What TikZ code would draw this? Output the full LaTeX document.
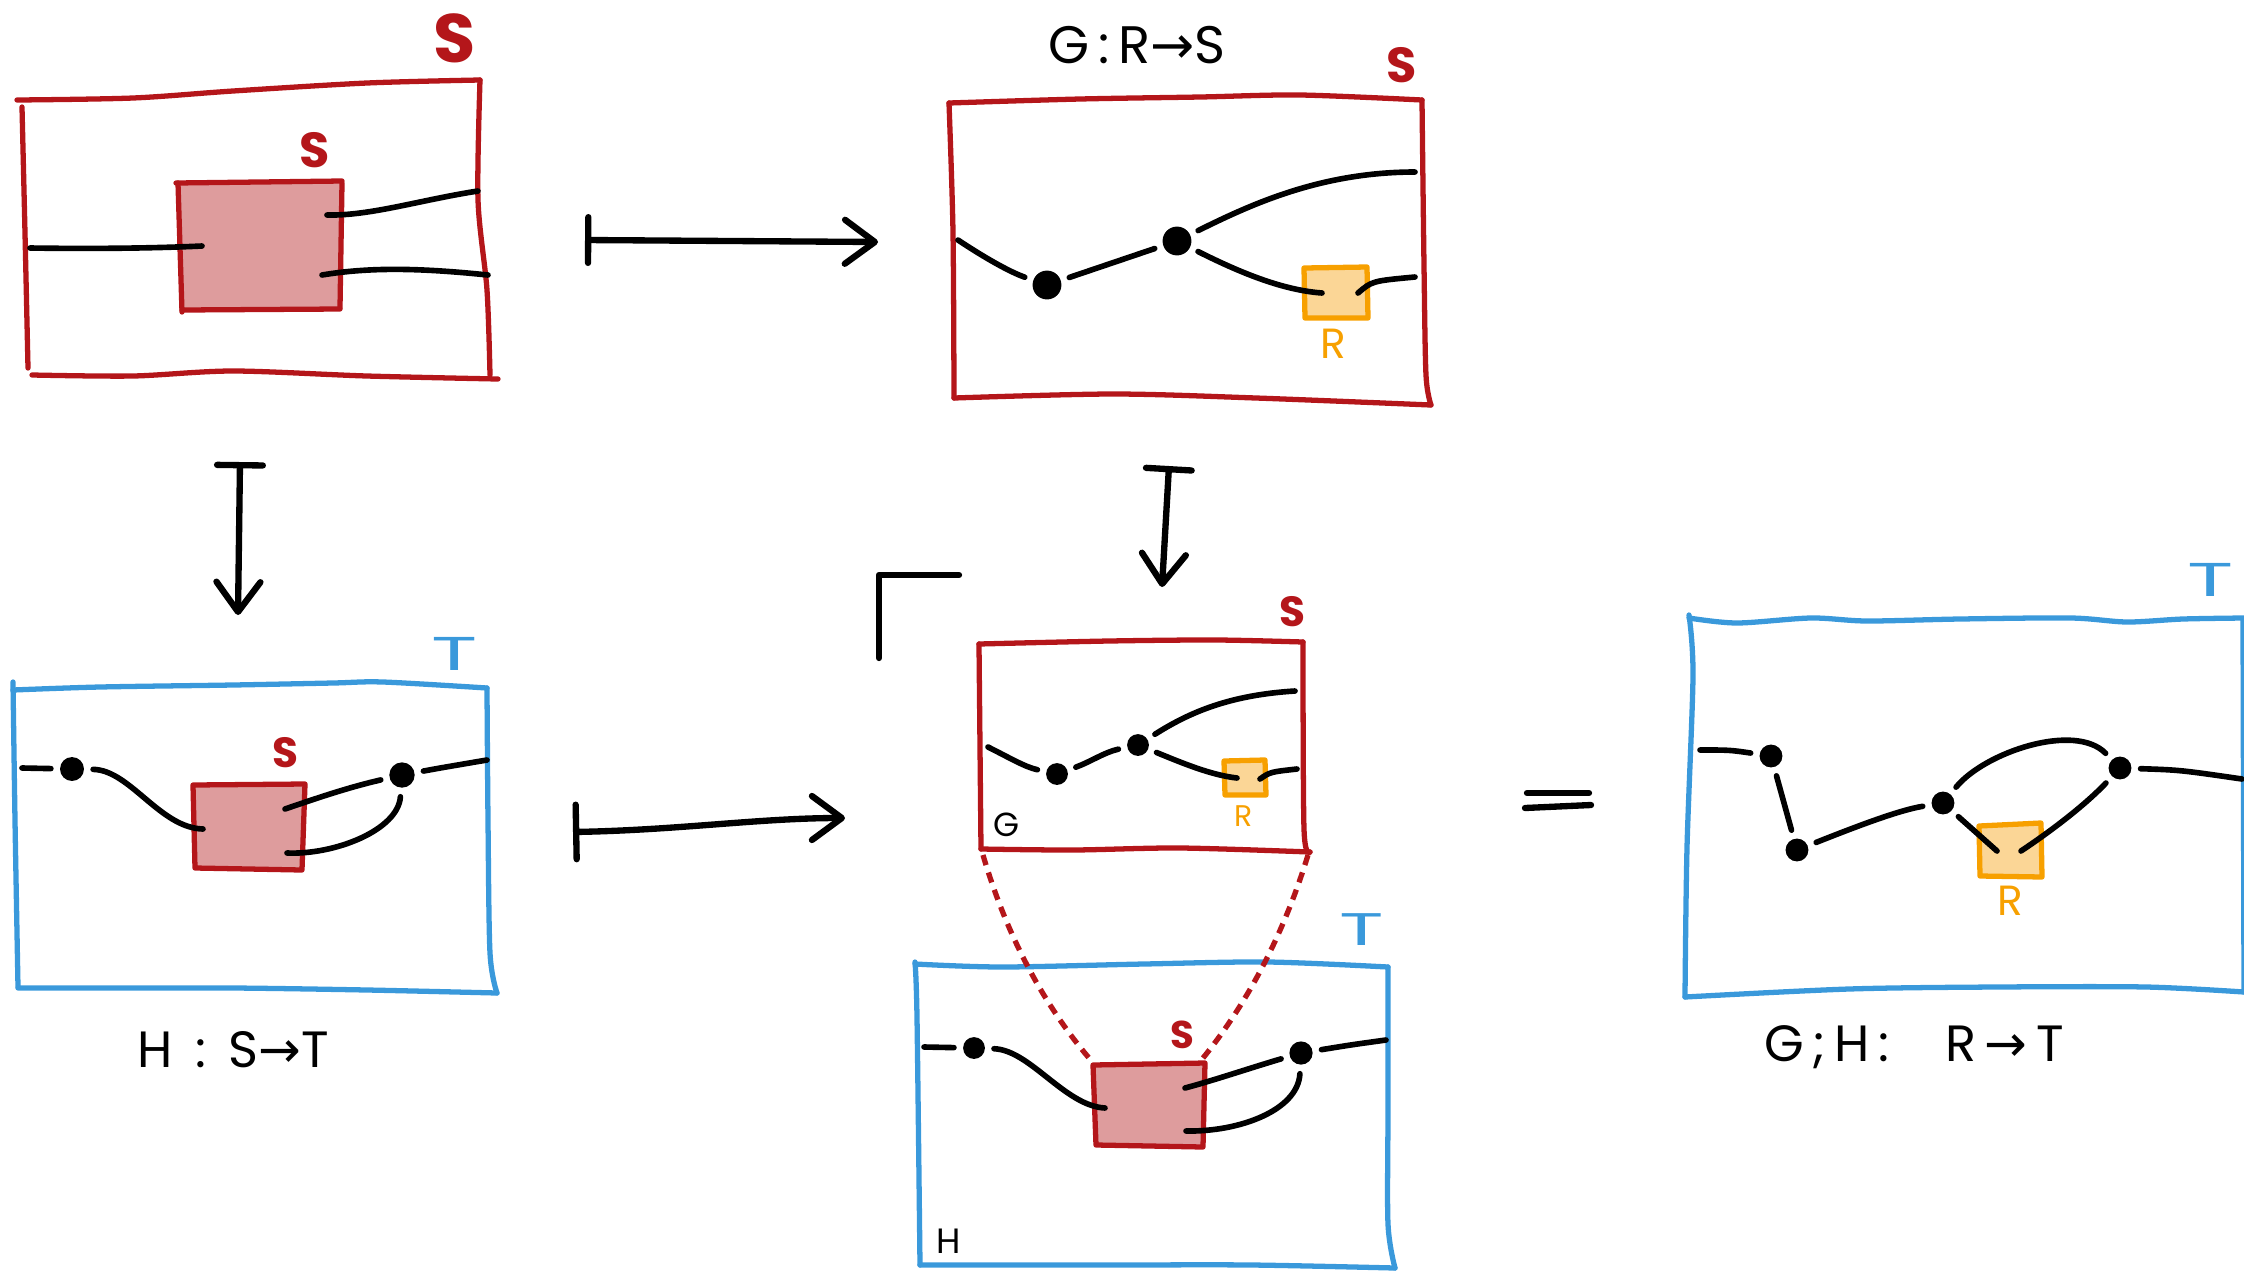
\documentclass[tikz,border=0pt]{standalone}
\usepackage{fontspec}
\setmainfont{Poppins}
\newfontfamily\symfont{DejaVu Sans}
\usetikzlibrary{arrows.meta}
\definecolor{sred}{RGB}{180,22,26}
\definecolor{spink}{RGB}{222,156,157}
\definecolor{sblue}{RGB}{58,153,219}
\definecolor{sorange}{RGB}{247,160,0}
\definecolor{sorangefill}{RGB}{251,214,150}
\newcommand{\fs}[1]{\fontsize{#1}{#1}\selectfont}
\newcommand{\ar}{{\symfont →}}
\tikzset{
  edge/.style={line width=1.5pt,line cap=round,line join=round},
  redline/.style={edge,draw=sred},
  blueline/.style={edge,draw=sblue},
  orangeline/.style={edge,draw=sorange},
  wire/.style={line width=1.6pt,line cap=round,draw=black},
  dot/.style={circle,fill=black,inner sep=0pt,minimum size=#1,outer sep=2.6pt},
  maparrow/.style={line width=1.8pt,line cap=round,line join=round,
    {Bar[width=13pt,round]}-{Straight Barb[length=8.5pt,width=12.5pt,round]}},
  dashlink/.style={line width=1.5pt,draw=sred,dash pattern=on 3pt off 2.2pt},
  slab/.style={text=sred,inner sep=0pt,font=\bfseries\fs{#1}},
  tlab/.style={text=sblue,inner sep=0pt,font=\fs{#1}},
  rlab/.style={text=sorange,inner sep=0pt,font=\fs{#1}},
  blab/.style={text=black,inner sep=0pt,font=\fs{#1}},
}
\begin{document}
\begin{tikzpicture}[x=0.01cm,y=-0.01cm]
\useasboundingbox (0,0) rectangle (2244,1275);

% ---------- S-shaped diagram with an S-hole (top left) ----------
\draw[redline] plot[smooth] coordinates {(17,100) (133,98) (233,91) (367,83) (480,80)};
\draw[redline] plot[smooth] coordinates {(480,80) (478,200) (487,290) (490,375)};
\draw[redline] plot[smooth] coordinates {(498,379) (367,376) (233,371) (133,376) (32,375)};
\draw[redline] plot[smooth] coordinates {(28,368) (25,233) (22,107)};
\fill[spink] (176,183) -- (342,182) -- (340,308) -- (182,310) -- cycle;
\draw[redline] (176,183) -- (342,181);
\draw[redline] (342,183) -- (340,308);
\draw[redline] (340,309) -- (182,310);
\draw[redline] (182,312) -- (178,183);
\node[slab=19.5] (s1big) at (455,38) {S};
\node[slab=14] (s1small) at (315,150) {S};
\coordinate (p1a) at (30,248);  \coordinate (p1b) at (202,246);
\coordinate (p1c) at (327,215); \coordinate (p1d) at (478,191);
\coordinate (p1e) at (322,275); \coordinate (p1f) at (488,275);
\draw[wire] (p1a) .. controls (100,249) and (160,248) .. (p1b);
\draw[wire] (p1c) .. controls (370,216) and (420,200) .. (p1d);
\draw[wire] (p1e) .. controls (370,267) and (420,268) .. (p1f);

% ---------- G : R -> S (top middle) ----------
\node[blab=15] (glab) at (1137,45) {G\,:\,R\ar S};
\draw[redline] plot[smooth] coordinates {(949,103) (1080,99) (1200,97) (1300,95) (1422,100)};
\draw[redline] plot[smooth] coordinates {(1422,100) (1424,265) (1426,375) (1431,405)};
\draw[redline] plot[smooth] coordinates {(1431,405) (1256,398) (1113,394) (954,398)};
\draw[redline] plot[smooth] coordinates {(954,398) (953,232) (949,103)};
\node[slab=14] (s2) at (1402,65) {S};
\fill[sorangefill] (1304,268) rectangle (1367,318);
\draw[orangeline] (1304,268) -- (1367,267) -- (1368,318) -- (1305,318) -- cycle;
\node[rlab=12] (r2) at (1333,344) {R};
\node[dot=8.2pt] (g1) at (1047,285) {};
\node[dot=8.2pt] (g2) at (1177,241) {};
\coordinate (g2in) at (958,240);
\coordinate (g2up) at (1415,172);
\coordinate (g2rin) at (1322,293);
\coordinate (g2rout) at (1358,293);
\coordinate (g2low) at (1415,277);
\draw[wire] (g2in) .. controls (985,258) and (1010,272) .. (g1);
\draw[wire] (g1) -- (g2);
\draw[wire] (g2) .. controls (1250,205) and (1320,172) .. (g2up);
\draw[wire] (g2) .. controls (1235,270) and (1280,290) .. (g2rin);
\draw[wire] (g2rout) .. controls (1372,281) .. (g2low);

% ---------- H : S -> T (bottom left) ----------
\draw[blueline] plot[smooth] coordinates {(13,690) (100,687) (233,685) (333,683) (383,682) (487,688)};
\draw[blueline] plot[smooth] coordinates {(487,688) (488,820) (490,953) (497,993)};
\draw[blueline] plot[smooth] coordinates {(497,993) (367,990) (233,988) (100,988) (18,988)};
\draw[blueline] plot[smooth] coordinates {(18,987) (15,820) (13,682)};
\node[tlab=13.5] (t3) at (455,654) {\scalebox{1.8}[1]{T}};
\fill[spink] (193,785) -- (305,784) -- (302,870) -- (195,868) -- cycle;
\draw[redline] (193,785) -- (305,784) -- (302,870) -- (195,868) -- cycle;
\node[slab=12] (s3) at (285,753) {S};
\node[dot=6.8pt] (h1) at (72,769) {};
\node[dot=7.2pt] (h2) at (402,775) {};
\coordinate (h3in) at (22,768);
\coordinate (h3a) at (203,829);
\coordinate (h3b) at (285,809);
\coordinate (h3c) at (287,853);
\coordinate (h3out) at (487,760);
\draw[wire] (h3in) -- (h1);
\draw[wire] (h1) .. controls (130,770) and (160,828) .. (h3a);
\draw[wire] (h3b) .. controls (320,797) and (350,787) .. (h2);
\draw[wire] (h3c) .. controls (335,855) and (398,830) .. (h2);
\draw[wire] (h2) .. controls (440,768) .. (h3out);
\node[blab=14.5] (hlab) at (233,1050) {H\;\,:\;\,S\ar T};

% ---------- the composite: G plugged into H (bottom middle) ----------
\draw[redline] plot[smooth] coordinates {(979,644) (1109,641) (1216,640) (1303,642)};
\draw[redline] plot[smooth] coordinates {(1303,642) (1304,829) (1310,852)};
\draw[redline] plot[smooth] coordinates {(1310,852) (1180,848) (1073,850) (981,849)};
\draw[redline] plot[smooth] coordinates {(981,849) (979,644)};
\node[slab=12] (s4) at (1292,612) {S};
\node[blab=9.5] (g4) at (1006,825) {G};
\fill[sorangefill] (1224,761) rectangle (1265,795);
\draw[orangeline] (1224,761) -- (1265,760) -- (1266,795) -- (1225,795) -- cycle;
\node[rlab=8.5] (r4) at (1244,816) {R};
\node[dot=6.2pt] (k1) at (1057,774) {};
\node[dot=6.2pt] (k2) at (1138,745) {};
\coordinate (k4in) at (988,747);
\coordinate (k4up) at (1295,691);
\coordinate (k4rin) at (1237,778);
\coordinate (k4rout) at (1260,779);
\coordinate (k4low) at (1297,769);
\draw[wire] (k4in) .. controls (1010,758) and (1025,767) .. (k1);
\draw[wire] (k1) .. controls (1090,762) and (1105,752) .. (k2);
\draw[wire] (k2) .. controls (1190,712) and (1230,695) .. (k4up);
\draw[wire] (k2) .. controls (1180,762) and (1210,775) .. (k4rin);
\draw[wire] (k4rout) .. controls (1270,772) .. (k4low);

\draw[blueline] plot[smooth] coordinates {(915,964) (1002,967) (1144,964) (1268,962) (1388,967)};
\draw[blueline] plot[smooth] coordinates {(1388,967) (1388,1109) (1388,1224) (1395,1268)};
\draw[blueline] plot[smooth] coordinates {(1395,1268) (1251,1265) (1109,1265) (920,1265)};
\draw[blueline] plot[smooth] coordinates {(920,1265) (917,1017) (915,962)};
\node[tlab=13] (t5) at (1362,930) {\scalebox{1.8}[1]{T}};
\node[blab=10] (h5) at (949,1241) {H};
\fill[spink] (1093,1065) -- (1205,1063) -- (1203,1147) -- (1096,1145) -- cycle;
\draw[redline] (1093,1065) -- (1205,1063) -- (1203,1147) -- (1096,1145) -- cycle;
\node[slab=11] (s5) at (1182,1035) {S};
\node[dot=6.2pt] (m1) at (974,1048) {};
\node[dot=6.6pt] (m2) at (1301,1053) {};
\coordinate (m5in) at (924,1047);
\coordinate (m5a) at (1105,1108);
\coordinate (m5b) at (1185,1088);
\coordinate (m5c) at (1186,1131);
\coordinate (m5out) at (1386,1040);
\draw[wire] (m5in) -- (m1);
\draw[wire] (m1) .. controls (1030,1050) and (1065,1106) .. (m5a);
\draw[wire] (m5b) .. controls (1215,1080) and (1250,1068) .. (m2);
\draw[wire] (m5c) .. controls (1240,1132) and (1298,1110) .. (m2);
\draw[wire] (m2) .. controls (1350,1045) .. (m5out);

% dashed zoom lines from the G frame down to the S hole
\coordinate (b4bl) at (983,855);
\coordinate (b4br) at (1308,855);
\coordinate (s5tl) at (1089,1058);
\coordinate (s5tr) at (1203,1058);
\draw[dashlink] (b4bl) .. controls (1005,930) and (1040,1000) .. (s5tl);
\draw[dashlink] (b4br) .. controls (1285,930) and (1250,1000) .. (s5tr);

% pushout corner
\coordinate (cnA) at (879,658);
\coordinate (cnB) at (879,575);
\coordinate (cnC) at (959,575);
\draw[line width=1.8pt,line cap=round,line join=round] (cnA) -- (cnB) -- (cnC);

% ---------- G;H : R -> T (right) ----------
\draw[blueline] plot[smooth] coordinates {(1689,618) (1737,623) (1811,618) (1867,621) (1960,619) (2071,618) (2127,622) (2183,619) (2244,618)};
\draw[blueline] (2243,619) -- (2244,992);
\draw[blueline] plot[smooth] coordinates {(2244,992) (2146,987) (1997,987) (1849,989) (1685,997)};
\draw[blueline] plot[smooth] coordinates {(1685,997) (1687,848) (1693,676) (1689,615)};
\node[tlab=13.5] (t6) at (2211,580) {\scalebox{1.8}[1]{T}};
\fill[sorangefill] (1979,824) rectangle (2042,877);
\draw[orangeline] (1979,826) -- (2041,823) -- (2042,877) -- (1980,876) -- cycle;
\node[rlab=12] (r6) at (2010,901) {R};
\node[dot=6.5pt] (n1) at (1771,756) {};
\node[dot=6.5pt] (n2) at (1797,850) {};
\node[dot=6.5pt] (n3) at (1943,803) {};
\node[dot=6.5pt] (n4) at (2120,768) {};
\coordinate (n6in) at (1700,750);
\coordinate (n6rin) at (1997,851);
\coordinate (n6rout) at (2021,851);
\coordinate (n6out) at (2242,779);
\draw[wire] (n6in) .. controls (1730,750) .. (n1);
\draw[wire] (n1) -- (n2);
\draw[wire] (n2) .. controls (1860,825) and (1900,810) .. (n3);
\draw[wire] (n3) .. controls (1985,752) and (2075,722) .. (n4);
\draw[wire] (n3) -- (n6rin);
\draw[wire] (n6rout) .. controls (2060,825) and (2090,800) .. (n4);
\draw[wire] (n4) .. controls (2180,770) .. (n6out);
\node[blab=14.5] (ghlab) at (1914,1047) {G\,;\,H\,:\;\;\; R\,\ar\,T};

% ---------- equality ----------
\coordinate (eqa) at (1527,793); \coordinate (eqb) at (1589,793);
\coordinate (eqc) at (1525,808); \coordinate (eqd) at (1591,805);
\draw[line width=1.8pt,line cap=round] (eqa) -- (eqb);
\draw[line width=1.8pt,line cap=round] (eqc) -- (eqd);

% ---------- maps between the diagrams ----------
\coordinate (a1s) at (585,240);  \coordinate (a1e) at (878,242);
\coordinate (a2s) at (240,462);  \coordinate (a2e) at (238,615);
\coordinate (a3s) at (1169,466); \coordinate (a3e) at (1162,587);
\coordinate (a4s) at (573,832);  \coordinate (a4e) at (845,818);
\draw[maparrow] (a1s) -- (a1e);
\draw[maparrow] (a2s) -- (a2e);
\draw[maparrow] (a3s) -- (a3e);
\draw[maparrow,{Bar[width=15.5pt,round]}-{Straight Barb[length=8.5pt,width=12.5pt,round]}] (a4s) .. controls (680,830) and (760,818) .. (a4e);
\end{tikzpicture}
\end{document}
